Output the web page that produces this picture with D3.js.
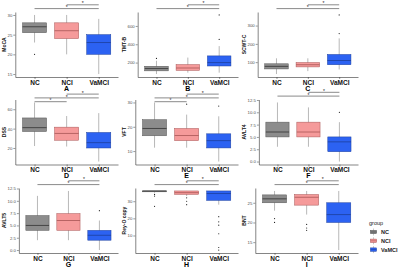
<!DOCTYPE html>
<html>
<head>
<meta charset="utf-8">
<script src="https://cdn.jsdelivr.net/npm/d3@7"></script>
<style>
  body { margin: 0; background: #fff; }
  svg { display: block; font-family: "Liberation Sans", Arial, sans-serif; }
</style>
</head>
<body>
<div id="chart"></div>
<script>
// groups and panel names
const groups = ["NC", "NCI", "VaMCI"];
const letters = ["A", "B", "C", "D", "E", "F", "G", "H", "I"];
const measures = ["MoCA", "TMT-B", "SCWT-C", "DSS", "VFT", "AVLT4", "AVLT5", "Rey-O copy", "BNT"];

// box stats per group: [whisker low, q1, median, q3, whisker high]
const mocaBox  = [[23, 25.5, 27, 28, 30], [20, 24, 26, 28, 30], [15, 20, 23, 25, 29]];
const tmtbBox  = [[75, 110, 135, 160, 220], [90, 115, 141, 178, 255], [90, 163, 200, 273, 380]];
const scwtBox  = [[35, 63, 77, 91, 121], [51, 74, 86, 98, 121], [60, 86, 109, 142, 230]];
const dssBox   = [[22, 37, 41, 51, 67], [21.5, 28, 35, 41.5, 53], [6, 20, 25.5, 36, 56]];
const vftBox   = [[11.4, 16.3, 19.3, 22.9, 30], [11.4, 14.3, 16.4, 19.3, 25], [5.7, 11.3, 14.3, 17.1, 24.3]];
const avlt4Box = [[3, 5, 6, 8, 12], [3, 5, 6, 8, 11], [0, 2, 4, 5, 8]];
const avlt5Box = [[2, 4, 5, 7, 11], [2, 4, 6, 7.4, 12], [0, 2, 3, 4, 6]];
const reyBox   = [[35, 35.5, 36, 36, 36], [33, 34, 35, 36, 36], [28, 30.5, 34.5, 36, 36]];
const bntBox   = [[23, 25, 26, 27, 28], [22, 24.4, 26.4, 27.1, 28], [13, 20, 22, 25, 28]];

// outliers per group
const mocaOut  = [[20], [], []];
const tmtbOut  = [[245], [], [453, 720]];
const scwtOut  = [[], [], [256, 358]];
const dssOut   = [[], [], []];
const vftOut   = [[], [29.3], [28.5]];
const avlt4Out = [[], [], [10]];
const avlt5Out = [[], [], [8]];
const reyOut   = [[34, 33, 27], [32, 30, 28], [21, 18, 16, 11, 3, 1.5]];
const bntOut   = [[21, 20], [19.5, 18.6, 18], []];

// y tick values
const mocaTicks  = [15, 20, 25, 30];
const tmtbTicks  = [200, 400, 600];
const scwtTicks  = [100, 200, 300];
const dssTicks   = [20, 40, 60];
const vftTicks   = [10, 20, 30];
const avltTicks  = [0, 2.5, 5, 7.5, 10, 12.5];
const reyTicks   = [10, 20, 30];
const bntTicks   = [15, 20, 25];

// significance brackets: [from group, to group]
const sigTwo   = [[0, 2], [1, 2]];
const sigThree = [[0, 1], [0, 2], [1, 2]];

const panels = [
  { box: mocaBox,  out: mocaOut,  ticks: mocaTicks, sig: sigTwo },
  { box: tmtbBox,  out: tmtbOut,  ticks: tmtbTicks, sig: sigTwo },
  { box: scwtBox,  out: scwtOut,  ticks: scwtTicks, sig: sigTwo },
  { box: dssBox,   out: dssOut,   ticks: dssTicks,  sig: sigThree },
  { box: vftBox,   out: vftOut,   ticks: vftTicks,  sig: sigThree },
  { box: avlt4Box, out: avlt4Out, ticks: avltTicks, sig: sigTwo, fmt: ".1f" },
  { box: avlt5Box, out: avlt5Out, ticks: avltTicks, sig: sigTwo, fmt: ".1f" },
  { box: reyBox,   out: reyOut,   ticks: reyTicks,  sig: sigTwo },
  { box: bntBox,   out: bntOut,   ticks: bntTicks,  sig: sigTwo }
];

const fills   = ["#8c8c8c", "#f59a9a", "#2c62f2"];
const strokes = ["#555555", "#a85656", "#1d3f9c"];

const width = 400, height = 268;
const cellX = [0, 120, 240], cellRight = 118;
const rowY = [12, 99.5, 188], plotH = 65;

const svg = d3.select("#chart").append("svg")
  .attr("width", width).attr("height", height);

panels.forEach((p, k) => {
  const cx = cellX[k % 3], y0 = rowY[Math.floor(k / 3)];
  const g = svg.append("g");
  const fmt = d3.format(p.fmt || "d");

  // plot left edge depends on tick label width, like separate ggplots in a grid
  const probe = g.append("text").style("font-size", "4.3px")
    .text(p.ticks.map(fmt).reduce((a, b) => (b.length > a.length ? b : a)));
  const labW = probe.node().getComputedTextLength();
  probe.remove();
  const x0 = cx + 7.5 + labW + 3;
  const x1 = cx + cellRight;

  const x = d3.scalePoint().domain(groups).range([x0, x1]).padding(0.6);
  const bw = x.step() * 0.75;

  // ggplot-like 5% expansion of the data range
  const vals = p.box.flat().concat(p.out.flat());
  const [mn, mx] = d3.extent(vals);
  const pad = (mx - mn) * 0.05;
  const y = d3.scaleLinear().domain([mn - pad, mx + pad]).range([y0 + plotH, y0]);

  // axes
  const yAxis = g.append("g")
    .attr("transform", `translate(${x0},0)`)
    .call(d3.axisLeft(y).tickValues(p.ticks).tickSize(2).tickSizeOuter(0).tickFormat(fmt));
  yAxis.select(".domain").attr("stroke", "#333").attr("stroke-width", 0.6);
  yAxis.selectAll(".tick line").attr("stroke", "#333").attr("stroke-width", 0.5);
  yAxis.selectAll(".tick text").attr("x", -3).attr("fill", "#4d4d4d")
    .style("font-size", "4.3px");

  const xAxis = g.append("g")
    .attr("transform", `translate(0,${y0 + plotH})`)
    .call(d3.axisBottom(x).tickSize(2).tickSizeOuter(0));
  xAxis.select(".domain").attr("stroke", "#333").attr("stroke-width", 0.6);
  xAxis.selectAll(".tick line").attr("stroke", "#333").attr("stroke-width", 0.5);
  xAxis.selectAll(".tick text").attr("y", 3).attr("fill", "#111")
    .style("font-size", "6.5px").style("font-weight", "bold");

  // y title
  g.append("text")
    .attr("transform", `translate(${cx + 6},${y0 + plotH / 2}) rotate(-90)`)
    .attr("text-anchor", "middle").attr("fill", "#111")
    .style("font-size", "5px").style("font-weight", "bold")
    .text(measures[k]);

  // panel letter
  g.append("text")
    .attr("x", (x0 + x1) / 2).attr("y", y0 + plotH + 13.5)
    .attr("text-anchor", "middle").attr("fill", "#000")
    .style("font-size", "7px").style("font-weight", "bold")
    .text(letters[k]);

  // boxes
  const bx = g.selectAll(".bx").data(p.box).join("g");
  bx.append("line")
    .attr("x1", (d, i) => x(groups[i])).attr("x2", (d, i) => x(groups[i]))
    .attr("y1", d => y(d[0])).attr("y2", d => y(d[4]))
    .attr("stroke", "#a6a6a6").attr("stroke-width", 0.8);
  bx.append("rect")
    .attr("x", (d, i) => x(groups[i]) - bw / 2).attr("width", bw)
    .attr("y", d => y(d[3])).attr("height", d => Math.max(0.6, y(d[1]) - y(d[3])))
    .attr("fill", (d, i) => fills[i])
    .attr("stroke", (d, i) => strokes[i]).attr("stroke-width", 0.5);
  bx.append("line")
    .attr("x1", (d, i) => x(groups[i]) - bw / 2).attr("x2", (d, i) => x(groups[i]) + bw / 2)
    .attr("y1", d => y(d[2])).attr("y2", d => y(d[2]))
    .attr("stroke", (d, i) => i === 0 ? "#333" : strokes[i]).attr("stroke-width", 0.8);

  // outliers
  p.out.forEach((arr, i) => {
    g.selectAll(null).data(arr).join("circle")
      .attr("cx", x(groups[i])).attr("cy", d => y(d))
      .attr("r", 0.6).attr("fill", "#222");
  });

  // significance brackets
  const base = p.sig.length === 3 ? 2.2 : -3.4;
  p.sig.forEach((s, t) => {
    const yy = y0 + base - t * 3.8;
    const xa = x(groups[s[0]]), xb = x(groups[s[1]]);
    g.append("line")
      .attr("x1", xa).attr("x2", xb).attr("y1", yy).attr("y2", yy)
      .attr("stroke", "#8a8a8a").attr("stroke-width", 1);
    g.append("text")
      .attr("x", (xa + xb) / 2).attr("y", yy + 0.6)
      .attr("text-anchor", "middle")
      .style("font-size", "5px").attr("fill", "#222")
      .text("*");
  });
});

// legend
const leg = svg.append("g").attr("transform", "translate(369,0)");
leg.append("text").attr("x", 0).attr("y", 225)
  .style("font-size", "5.5px").attr("fill", "#222").text("group");
const keys = leg.selectAll(".key").data(groups).join("g")
  .attr("transform", (d, i) => `translate(1,${228.5 + i * 8.8})`);
keys.append("line").attr("x1", 3.5).attr("x2", 3.5).attr("y1", 0).attr("y2", 7)
  .attr("stroke", "#a6a6a6").attr("stroke-width", 0.6);
keys.append("rect").attr("x", 0.5).attr("y", 1.8).attr("width", 6).attr("height", 3.4)
  .attr("fill", (d, i) => fills[i]).attr("stroke", (d, i) => strokes[i]).attr("stroke-width", 0.5);
keys.append("line").attr("x1", 0.5).attr("x2", 6.5).attr("y1", 3.5).attr("y2", 3.5)
  .attr("stroke", (d, i) => i === 0 ? "#333" : strokes[i]).attr("stroke-width", 0.6);
keys.append("text").attr("x", 11).attr("y", 5.6)
  .style("font-size", "5.5px").style("font-weight", "bold").attr("fill", "#222")
  .text(d => d);
</script>
</body>
</html>
